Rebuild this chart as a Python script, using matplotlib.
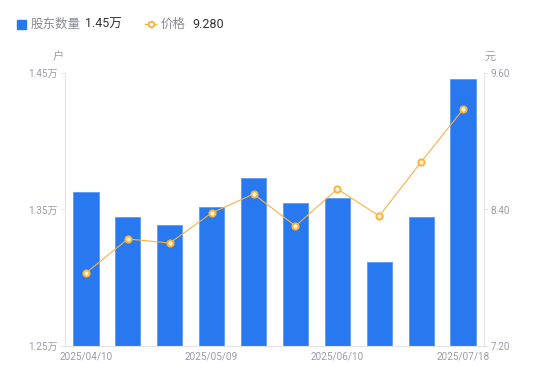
import numpy as np
import matplotlib
matplotlib.use('Agg')
import matplotlib.pyplot as plt

plt.rcParams['font.family'] = ['Roboto', 'Noto Sans CJK SC', 'DejaVu Sans']

dates = ['2025/04/10', '2025/04/18', '2025/04/30', '2025/05/09', '2025/05/20',
         '2025/05/30', '2025/06/10', '2025/06/20', '2025/06/30', '2025/07/18']
holders = [1.363, 1.3445, 1.3386, 1.3518, 1.3731, 1.3548, 1.3584, 1.3115, 1.3445, 1.4456]  # 万户
price = [7.842, 8.141, 8.105, 8.369, 8.536, 8.255, 8.580, 8.343, 8.818, 9.280]
shown_ticks = [0, 3, 6, 9]

bar_col = '#2878f0'
line_col = '#f5b342'
axis_col = '#e3e3e8'
tick_col = '#9b9ba8'

fig = plt.figure(figsize=(5.5, 3.81), dpi=100)
ax = fig.add_axes([65/550, 35/381, 419/550, 273/381])
ax2 = ax.twinx()

x = np.arange(len(dates))
ax.bar(x, holders, width=0.6, color=bar_col, edgecolor='#5a9af5', linewidth=0.6, zorder=2)
ax.set_xlim(-0.5, len(dates) - 0.5)
ax.set_ylim(1.25, 1.45)
ax.set_yticks([1.25, 1.35, 1.45])
ax.set_yticklabels(['1.25万', '1.35万', '1.45万'])

ax2.plot(x, price, color=line_col, lw=0.8, marker='o', ms=4.5,
         mfc='#fff3d6', mec=line_col, mew=1.4, zorder=3)
ax2.set_ylim(7.2, 9.6)
ax2.set_yticks([7.2, 8.4, 9.6])
ax2.set_yticklabels(['7.20', '8.40', '9.60'])

ax.set_xticks([x[i] for i in shown_ticks])
ax.set_xticklabels([dates[i] for i in shown_ticks])

for a in (ax, ax2):
    for s in a.spines.values():
        s.set_visible(False)
    a.tick_params(colors=tick_col, labelsize=7.2, length=3, width=0.8)
    a.tick_params(axis='y', color=axis_col)
ax.spines['left'].set_visible(True)
ax.spines['left'].set_color(axis_col)
ax.spines['bottom'].set_visible(True)
ax.spines['bottom'].set_color(axis_col)
ax2.spines['right'].set_visible(True)
ax2.spines['right'].set_color(axis_col)
ax.tick_params(axis='x', length=0, pad=4)
ax.tick_params(axis='y', pad=2)
ax2.tick_params(axis='y', pad=2)
ax2.set_zorder(ax.get_zorder() + 1)
ax2.patch.set_visible(False)

fig.text(58/550, 1 - 57/381, '户', fontsize=8, color=tick_col, ha='center', va='center')
fig.text(490/550, 1 - 57/381, '元', fontsize=8, color=tick_col, ha='center', va='center')

# legend row
ly = 1 - 24/381
fig.patches.append(plt.Rectangle((17/550, 1 - 29/381), 9/550, 9/381, transform=fig.transFigure,
                                 color=bar_col, figure=fig))
fig.text(31/550, ly, '股东数量', fontsize=9, color='#8a8a96', va='center')
fig.text(85/550, ly, '1.45万', fontsize=9, color='#333333', va='center')
fig.lines.append(plt.Line2D([145/550, 150.5/550, 156/550], [ly, ly, ly], transform=fig.transFigure,
                            color=line_col, lw=1, marker='o', ms=4, markevery=[1],
                            mfc='white', mec=line_col, mew=1.4, figure=fig))
fig.text(161/550, ly, '价格', fontsize=9, color='#8a8a96', va='center')
fig.text(192/550, ly, '9.280', fontsize=9, color='#333333', va='center')

fig.savefig('out.png', dpi=100)
